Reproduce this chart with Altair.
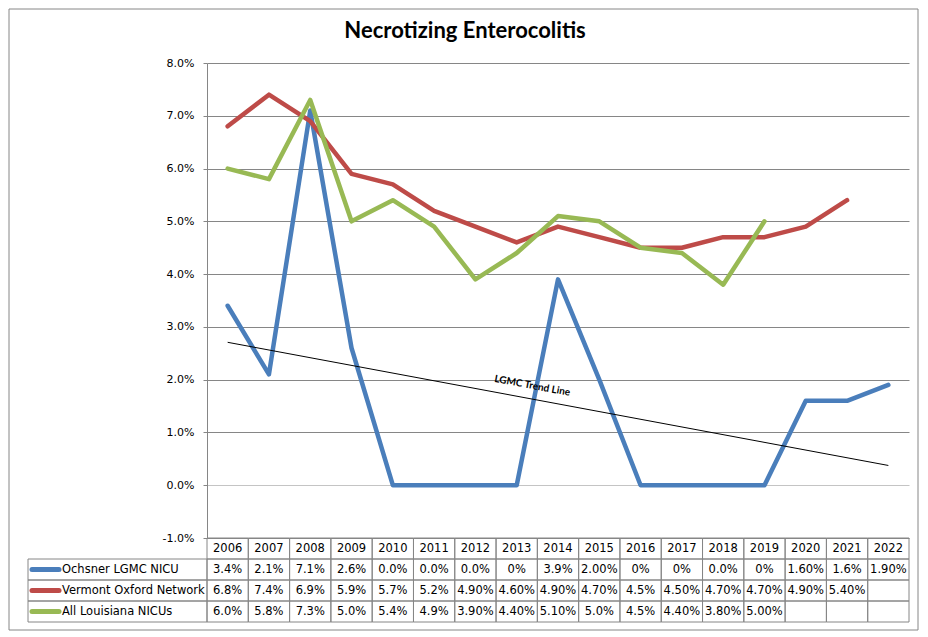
import altair as alt
import numpy as np
import pandas as pd

# ---------------- data ----------------
years = list(range(2006, 2023))
series_names = ["Ochsner LGMC NICU", "Vermont Oxford Network", "All Louisiana NICUs"]

ochsner = [3.4, 2.1, 7.1, 2.6, 0.0, 0.0, 0.0, 0.0, 3.9, 2.0, 0.0, 0.0, 0.0, 0.0, 1.6, 1.6, 1.9]
vermont = [6.8, 7.4, 6.9, 5.9, 5.7, 5.2, 4.9, 4.6, 4.9, 4.7, 4.5, 4.5, 4.7, 4.7, 4.9, 5.4, None]
louisiana = [6.0, 5.8, 7.3, 5.0, 5.4, 4.9, 3.9, 4.4, 5.1, 5.0, 4.5, 4.4, 3.8, 5.0, None, None, None]

ochsner_text = ["3.4%", "2.1%", "7.1%", "2.6%", "0.0%", "0.0%", "0.0%", "0%", "3.9%", "2.00%",
                "0%", "0%", "0.0%", "0%", "1.60%", "1.6%", "1.90%"]
vermont_text = ["6.8%", "7.4%", "6.9%", "5.9%", "5.7%", "5.2%", "4.90%", "4.60%", "4.90%", "4.70%",
                "4.5%", "4.50%", "4.70%", "4.70%", "4.90%", "5.40%", ""]
louisiana_text = ["6.0%", "5.8%", "7.3%", "5.0%", "5.4%", "4.9%", "3.90%", "4.40%", "5.10%", "5.0%",
                  "4.5%", "4.40%", "3.80%", "5.00%", "", "", ""]

colors = ["#4A7EBB", "#BE4B48", "#98B954"]
y_ticks = [v / 100 for v in range(-1, 9)]
trend_label = "LGMC Trend Line"

# ---------------- tables ----------------
series_values = [ochsner, vermont, louisiana]
series_texts = [ochsner_text, vermont_text, louisiana_text]

line_rows = []
for name, vals in zip(series_names, series_values):
    for yr, v in zip(years, vals):
        if v is not None:
            line_rows.append({"series": name, "year": yr, "value": v / 100})
df_lines = pd.DataFrame(line_rows)

table_rows = [{"row": "hdr", "year": yr, "text": str(yr)} for yr in years]
for name, texts in zip(series_names, series_texts):
    for yr, t in zip(years, texts):
        table_rows.append({"row": name, "year": yr, "text": t})
df_table = pd.DataFrame(table_rows)
df_labels = pd.DataFrame({"row": series_names})

fit = np.polyfit(years, ochsner, 1)
label_year = 2013
label_pos = 0.82
df_trend_label = pd.DataFrame({
    "year": [label_year],
    "value": [np.polyval(fit, label_year + label_pos - 0.5) / 100],
    "text": [trend_label],
})

# ---------------- scales / axes ----------------
GRAY = "#868686"
FONT = "DejaVu Sans"
row_domain = ["hdr"] + series_names

xscale = alt.Scale(domain=years, type="band", paddingInner=0, paddingOuter=0)
yscale = alt.Scale(domain=[-0.01, 0.08], nice=False, zero=False)
tscale = alt.Scale(domain=row_domain, type="band", range=[475, 559], paddingInner=0, paddingOuter=0)

yaxis = alt.Axis(
    values=y_ticks, format=".1%", labelExpr="replace(datum.label, '\u2212', '-')",
    grid=True, gridColor=alt.condition("datum.value === 0", alt.value("#c4c4c4"), alt.value(GRAY)),
    gridWidth=1, domainColor=GRAY, tickColor=GRAY, tickSize=4, labelPadding=9,
    labelFont=FONT, labelFontSize=11, labelColor="black", title=None,
)

X = lambda **kw: alt.X("year:O", scale=xscale, axis=None, **kw)

# ---------------- line layers ----------------
line_layers = []
for name, col in zip(series_names, colors):
    line_layers.append(
        alt.Chart(df_lines[df_lines.series == name]).mark_line(
            color=col, strokeWidth=4.5, strokeCap="round", strokeJoin="round"
        ).encode(x=X(bandPosition=0.5), y=alt.Y("value:Q", scale=yscale, axis=yaxis))
    )

trend = alt.Chart(df_lines[df_lines.series == series_names[0]]).transform_regression(
    "year", "value", method="linear", extent=[years[0], years[-1]]
).mark_line(color="black", strokeWidth=1).encode(
    x=X(bandPosition=0.5), y=alt.Y("value:Q", scale=yscale, axis=yaxis)
)

trend_text = alt.Chart(df_trend_label).mark_text(
    font="Lato", fontWeight="bold", fontSize=10, angle=10.5, dy=-13, color="black"
).encode(
    x=X(bandPosition=label_pos), y=alt.Y("value:Q", scale=yscale, axis=yaxis), text="text:N"
)

lines_group = alt.layer(*line_layers, trend, trend_text)

# ---------------- data table ----------------
TY = lambda **kw: alt.Y("row:N", scale=tscale, axis=None, **kw)

cells = alt.Chart(df_table).mark_rect(fillOpacity=0, stroke=GRAY, strokeWidth=1).encode(
    x=X(), y=TY()
)
cell_text = alt.Chart(df_table).mark_text(font=FONT, fontSize=11.5, color="black").encode(
    x=X(bandPosition=0.5), y=TY(bandPosition=0.5), text="text:N"
)
label_cells = alt.Chart(df_labels).mark_rect(fillOpacity=0, stroke=GRAY, strokeWidth=1).encode(
    x=alt.value(-179), x2=alt.value(0), y=TY()
)
swatches = alt.Chart(df_labels).mark_rule(strokeWidth=5, strokeCap="round").encode(
    x=alt.value(-175), x2=alt.value(-148), y=TY(bandPosition=0.5),
    color=alt.Color("row:N", scale=alt.Scale(domain=series_names, range=colors), legend=None),
)
label_text = alt.Chart(df_labels).mark_text(
    font=FONT, fontSize=11.5, color="black", align="left"
).encode(x=alt.value(-145), y=TY(bandPosition=0.5), text="row:N")

frame = alt.Chart(pd.DataFrame({"f": [0]})).mark_rect(fillOpacity=0, stroke=GRAY, strokeWidth=1).encode(
    x=alt.value(-198), x2=alt.value(711), y=alt.value(-54), y2=alt.value(567)
)

table_group = alt.layer(frame, cells, cell_text, label_cells, swatches, label_text)

chart = alt.layer(lines_group, table_group).resolve_scale(y="independent").properties(
    width=702, height=475, padding=0, background="white",
    title=alt.TitleParams("Necrotizing Enterocolitis", font="Lato", fontSize=22, fontWeight="bold",
                          anchor="middle", color="black", dx=-93, dy=38),
).configure_view(stroke=None)

chart.save("out.html", embed_options={"renderer": "svg", "actions": False})
